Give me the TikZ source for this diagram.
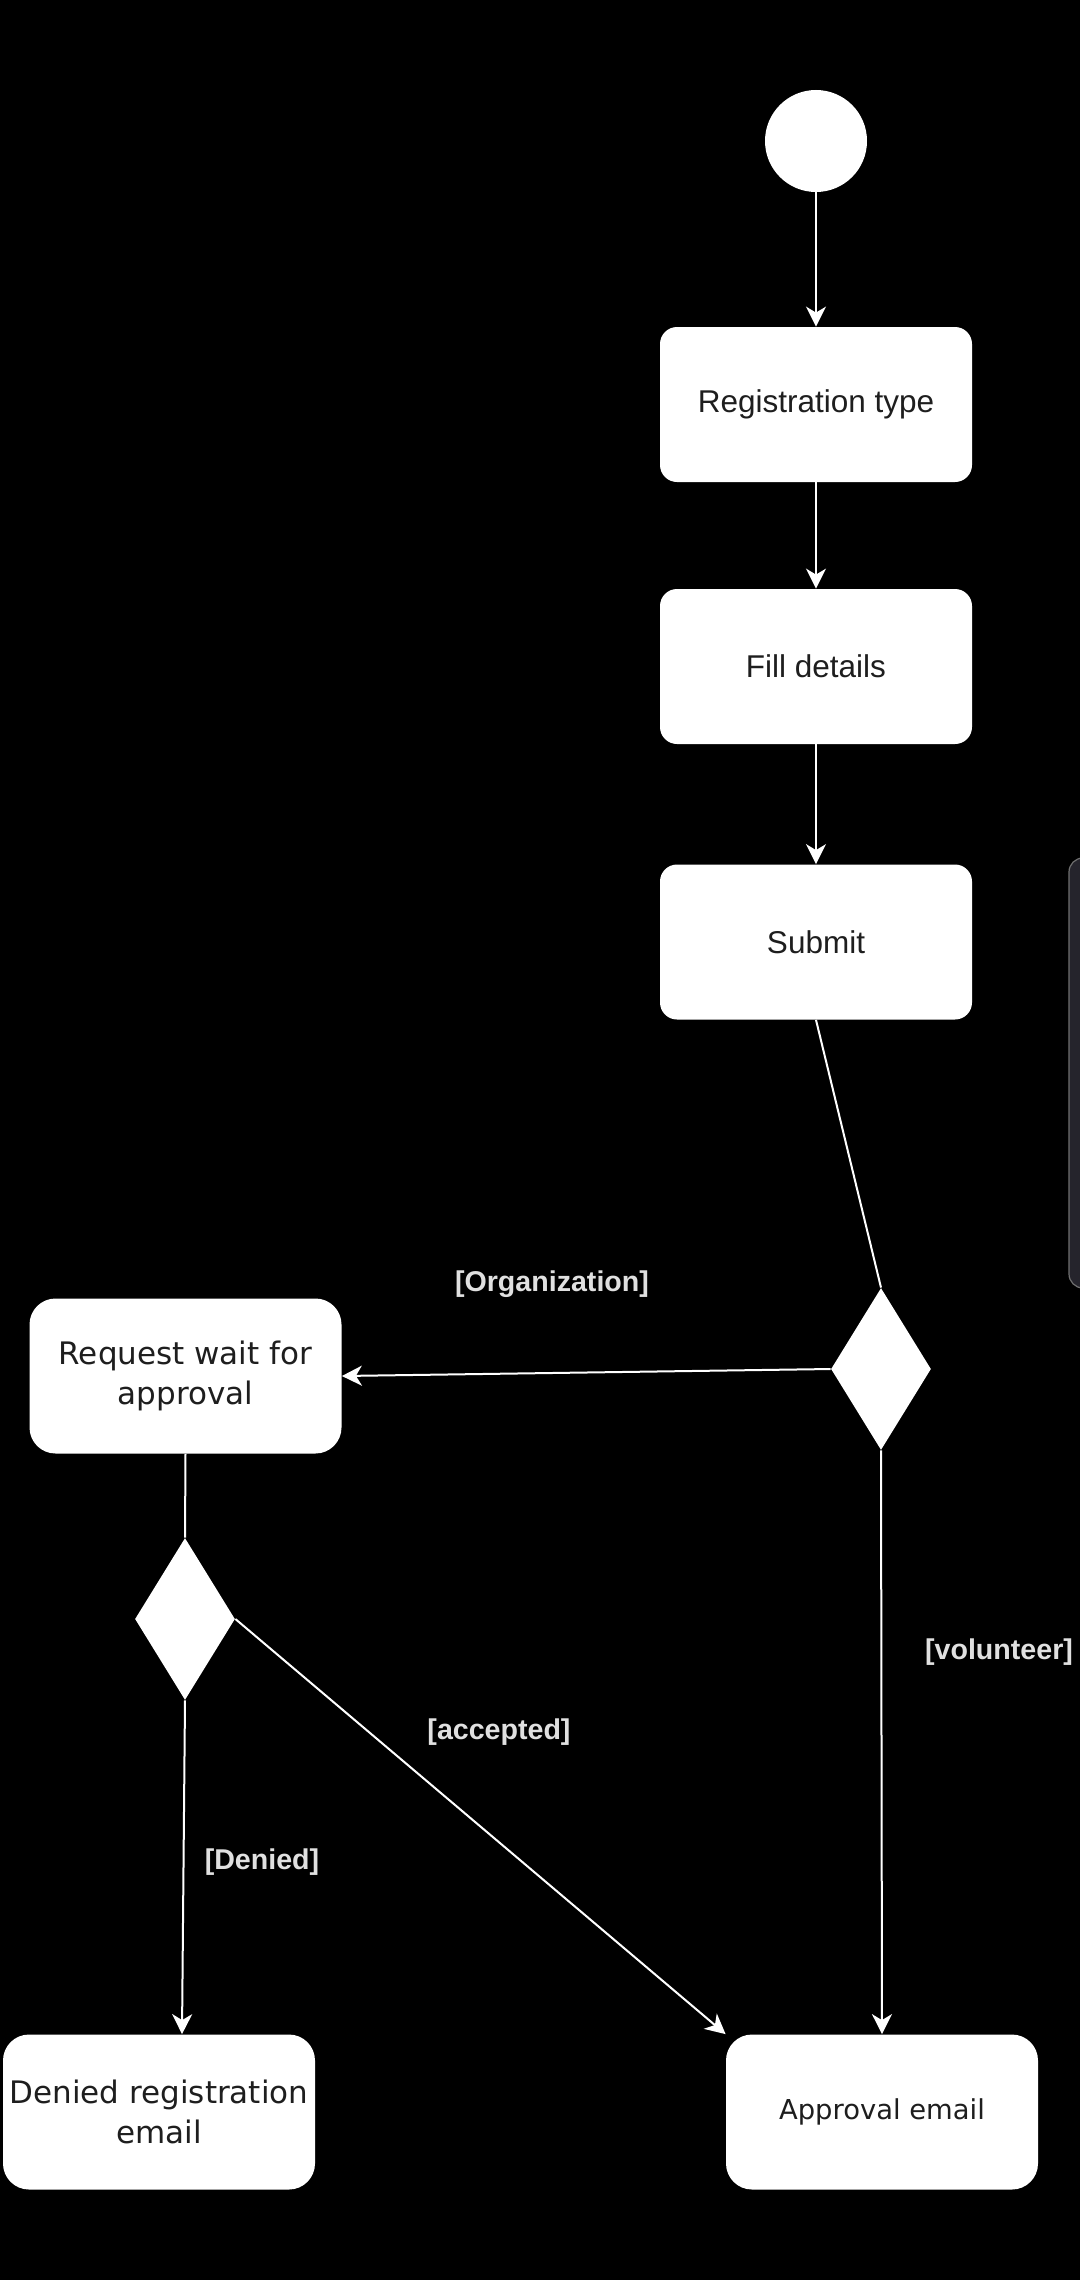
\documentclass[tikz,border=0pt]{standalone}
\usepackage{fontspec}
\setmainfont{Liberation Sans}
\newfontfamily\verdana{DejaVu Sans}
\usetikzlibrary{shapes.geometric,arrows.meta}

\definecolor{boxtext}{HTML}{1E1E1E}
\definecolor{guardgray}{HTML}{E0E0E0}
\definecolor{panelfill}{HTML}{25242C}
\definecolor{panelline}{HTML}{707070}

\tikzset{
    act/.style={
        rectangle,
        rounded corners=8.5pt,
        fill=white,
        text=boxtext,
        minimum width=156pt,
        minimum height=77.5pt,
        inner sep=0pt,
        font=\fontsize{15.75}{19}\selectfont
        },
    actv/.style={
        act,
        rounded corners=13pt,
        align=center,
        font=\verdana\fontsize{15.5}{20}\selectfont
        },
    decision/.style={diamond, fill=white, minimum width=50pt, minimum height=81pt, inner sep=0pt},
    guard/.style={text=guardgray, font=\bfseries\fontsize{14.3}{17}\selectfont},
    line/.style={draw=white, line width=1pt},
    flow/.style={line, -{Stealth[length=10pt,width=10pt,inset=3pt]}},
}

\begin{document}
\begin{tikzpicture}[x=0.5pt,y=-0.5pt]
    % Page:
    \fill[black] (0,0) rectangle (1080,2280);
    \useasboundingbox (0,0) rectangle (1080,2280);
    % panel cut by the right edge
    \filldraw[fill=panelfill, draw=panelline, line width=0.6pt, rounded corners=7pt]
        (1069,858) rectangle (1120,1288);

    % Activities:
    \node[circle, fill=white, minimum size=51pt, inner sep=0pt] (start) at (816,141) {};
    \node[act] (regtype) at (816,404.5) {Registration type};
    \node[act] (details) at (816,666.5) {Fill details};
    \node[act] (submit) at (816,942) {Submit};
    \node[decision] (dec1) at (881,1369) {};
    \node[actv] (reqwait) at (185.5,1376) {Request wait for\\approval};
    \node[decision] (dec2) at (185,1619) {};
    \node[actv] (deny) at (159,2112) {Denied registration\\email};
    \node[actv, font=\verdana\fontsize{13.7}{17}\selectfont] (appr) at (882,2112) {Approval email};

    % Flow:
    \foreach \a/\b in {start/regtype, regtype/details, details/submit}
        \draw[flow] (\a) -- (\b);
    \draw[line] (submit.south) -- (dec1.north);
    \draw[flow] (dec1.west) -- (reqwait.east);
    \draw[flow] (dec1.south) -- (appr.north);
    \draw[line] (reqwait.south) -- (dec2.north);
    \draw[flow] (dec2.south) -- ([xshift=11.5pt]deny.north);
    \draw[flow] (dec2.east) -- (appr.north west);

    % Guards:
    \node[guard] (gorg) at (552,1284) {[Organization]};
    \node[guard] (gvol) at (999,1652) {[volunteer]};
    \node[guard] (gacc) at (499,1732) {[accepted]};
    \node[guard] (gden) at (262,1862) {[Denied]};
\end{tikzpicture}
\end{document}
